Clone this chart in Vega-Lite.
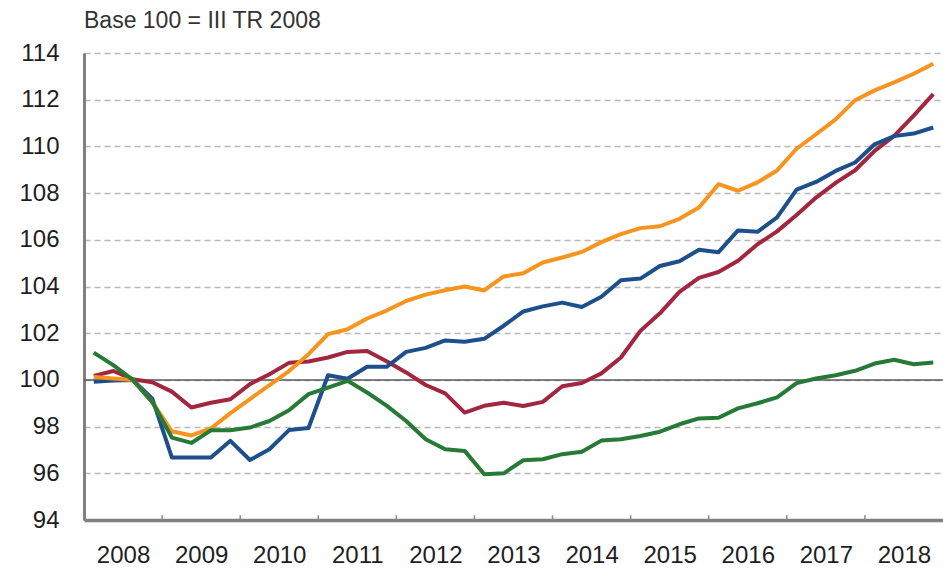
{
  "$schema": "https://vega.github.io/schema/vega-lite/v6.json",
  "width": 859,
  "height": 467,
  "autosize": "none",
  "padding": {"left": 84, "top": 53, "right": 0, "bottom": 57},
  "background": "white",
  "config": {"view": {"stroke": null}, "font": "Liberation Sans"},
  "title": {"text": "Base 100 = III TR 2008", "anchor": "start", "frame": "group", "fontSize": 23, "fontWeight": "normal", "color": "#333333", "offset": 8, "font": "Liberation Sans"},
  "datasets": {
    "series": [
      {"t": 2008.125, "orange": 100.12, "blue": 99.92, "red": 100.17, "green": 101.17},
      {"t": 2008.375, "orange": 100.06, "blue": 99.97, "red": 100.38, "green": 100.63},
      {"t": 2008.625, "orange": 100.0, "blue": 100.0, "red": 100.03, "green": 100.0},
      {"t": 2008.875, "orange": 99.05, "blue": 99.2, "red": 99.9, "green": 99.05},
      {"t": 2009.125, "orange": 97.8, "blue": 96.68, "red": 99.5, "green": 97.53},
      {"t": 2009.375, "orange": 97.62, "blue": 96.68, "red": 98.82, "green": 97.3},
      {"t": 2009.625, "orange": 97.92, "blue": 96.68, "red": 99.02, "green": 97.84},
      {"t": 2009.875, "orange": 98.58, "blue": 97.39, "red": 99.17, "green": 97.84},
      {"t": 2010.125, "orange": 99.18, "blue": 96.57, "red": 99.82, "green": 97.96},
      {"t": 2010.375, "orange": 99.78, "blue": 97.03, "red": 100.24, "green": 98.24},
      {"t": 2010.625, "orange": 100.38, "blue": 97.85, "red": 100.73, "green": 98.7},
      {"t": 2010.875, "orange": 101.1, "blue": 97.94, "red": 100.79, "green": 99.39},
      {"t": 2011.125, "orange": 101.96, "blue": 100.2, "red": 100.96, "green": 99.67},
      {"t": 2011.375, "orange": 102.17, "blue": 100.05, "red": 101.2, "green": 99.96},
      {"t": 2011.625, "orange": 102.63, "blue": 100.56, "red": 101.24, "green": 99.46},
      {"t": 2011.875, "orange": 102.97, "blue": 100.56, "red": 100.8, "green": 98.9},
      {"t": 2012.125, "orange": 103.38, "blue": 101.2, "red": 100.32, "green": 98.24},
      {"t": 2012.375, "orange": 103.65, "blue": 101.37, "red": 99.78, "green": 97.46},
      {"t": 2012.625, "orange": 103.84, "blue": 101.69, "red": 99.42, "green": 97.03},
      {"t": 2012.875, "orange": 104.0, "blue": 101.63, "red": 98.6, "green": 96.96},
      {"t": 2013.125, "orange": 103.83, "blue": 101.76, "red": 98.89, "green": 95.96},
      {"t": 2013.375, "orange": 104.43, "blue": 102.32, "red": 99.02, "green": 96.0},
      {"t": 2013.625, "orange": 104.57, "blue": 102.93, "red": 98.88, "green": 96.56},
      {"t": 2013.875, "orange": 105.03, "blue": 103.15, "red": 99.06, "green": 96.6},
      {"t": 2014.125, "orange": 105.24, "blue": 103.31, "red": 99.73, "green": 96.82},
      {"t": 2014.375, "orange": 105.48, "blue": 103.12, "red": 99.87, "green": 96.92},
      {"t": 2014.625, "orange": 105.9, "blue": 103.56, "red": 100.28, "green": 97.4},
      {"t": 2014.875, "orange": 106.24, "blue": 104.27, "red": 100.96, "green": 97.46},
      {"t": 2015.125, "orange": 106.5, "blue": 104.34, "red": 102.1, "green": 97.6},
      {"t": 2015.375, "orange": 106.58, "blue": 104.88, "red": 102.85, "green": 97.78},
      {"t": 2015.625, "orange": 106.9, "blue": 105.08, "red": 103.77, "green": 98.1},
      {"t": 2015.875, "orange": 107.38, "blue": 105.57, "red": 104.37, "green": 98.35},
      {"t": 2016.125, "orange": 108.38, "blue": 105.47, "red": 104.62, "green": 98.38},
      {"t": 2016.375, "orange": 108.1, "blue": 106.4, "red": 105.1, "green": 98.78},
      {"t": 2016.625, "orange": 108.46, "blue": 106.34, "red": 105.81, "green": 99.0},
      {"t": 2016.875, "orange": 108.97, "blue": 106.96, "red": 106.36, "green": 99.25},
      {"t": 2017.125, "orange": 109.9, "blue": 108.15, "red": 107.06, "green": 99.86},
      {"t": 2017.375, "orange": 110.52, "blue": 108.48, "red": 107.81, "green": 100.06},
      {"t": 2017.625, "orange": 111.16, "blue": 108.95, "red": 108.44, "green": 100.2},
      {"t": 2017.875, "orange": 111.98, "blue": 109.31, "red": 108.98, "green": 100.39},
      {"t": 2018.125, "orange": 112.4, "blue": 110.09, "red": 109.81, "green": 100.7},
      {"t": 2018.375, "orange": 112.74, "blue": 110.44, "red": 110.45, "green": 100.86},
      {"t": 2018.625, "orange": 113.11, "blue": 110.55, "red": 111.32, "green": 100.67},
      {"t": 2018.875, "orange": 113.54, "blue": 110.81, "red": 112.24, "green": 100.75}
    ],
    "yearticks": [
      {"t": 2009, "y0": 94, "y1": 94.2}, {"t": 2010, "y0": 94, "y1": 94.2},
      {"t": 2011, "y0": 94, "y1": 94.2}, {"t": 2012, "y0": 94, "y1": 94.2},
      {"t": 2013, "y0": 94, "y1": 94.2}, {"t": 2014, "y0": 94, "y1": 94.2},
      {"t": 2015, "y0": 94, "y1": 94.2}, {"t": 2016, "y0": 94, "y1": 94.2},
      {"t": 2017, "y0": 94, "y1": 94.2}, {"t": 2018, "y0": 94, "y1": 94.2}
    ],
    "base": [{"y": 100}]
  },
  "layer": [
    {
      "data": {"name": "base"},
      "mark": {"type": "rule", "color": "#5a5a5a", "strokeWidth": 1.5},
      "encoding": {
        "y": {"field": "y", "type": "quantitative", "scale": {"domain": [94, 114], "nice": false, "zero": false},
          "axis": {"title": null, "values": [94, 96, 98, 100, 102, 104, 106, 108, 110, 112, 114], "grid": true, "gridDash": [6, 4], "gridColor": "#b8b8b8", "gridWidth": 1.5, "ticks": false, "domain": true, "domainColor": "#808080", "domainWidth": 3, "labelPadding": 25, "labelFontSize": 24, "labelColor": "#1e1e1e", "labelFont": "Liberation Sans"}}
      }
    },
    {
      "data": {"name": "yearticks"},
      "mark": {"type": "rule", "color": "#8a8a8a", "strokeWidth": 1.5},
      "encoding": {
        "x": {"field": "t", "type": "quantitative", "scale": {"domain": [2008, 2019], "nice": false, "zero": false},
          "axis": {"title": null, "values": [2008.5, 2009.5, 2010.5, 2011.5, 2012.5, 2013.5, 2014.5, 2015.5, 2016.5, 2017.5, 2018.5], "labelExpr": "floor(datum.value)", "grid": false, "ticks": false, "domain": true, "domainColor": "#808080", "domainWidth": 3.5, "labelPadding": 23, "labelFontSize": 24, "labelColor": "#1e1e1e", "labelFont": "Liberation Sans"}},
        "y": {"field": "y0", "type": "quantitative"},
        "y2": {"field": "y1"}
      }
    },
    {
      "data": {"name": "series"},
      "transform": [{"fold": ["red", "blue", "orange", "green"], "as": ["series", "value"]}],
      "mark": {"type": "line", "strokeWidth": 4, "strokeJoin": "round"},
      "encoding": {
        "x": {"field": "t", "type": "quantitative"},
        "y": {"field": "value", "type": "quantitative"},
        "color": {"field": "series", "type": "nominal", "scale": {"domain": ["red", "blue", "orange", "green"], "range": ["#a3263f", "#1d4f8c", "#f7941d", "#277a35"]}, "legend": null},
        "order": {"field": "t", "type": "quantitative"}
      }
    }
  ]
}
